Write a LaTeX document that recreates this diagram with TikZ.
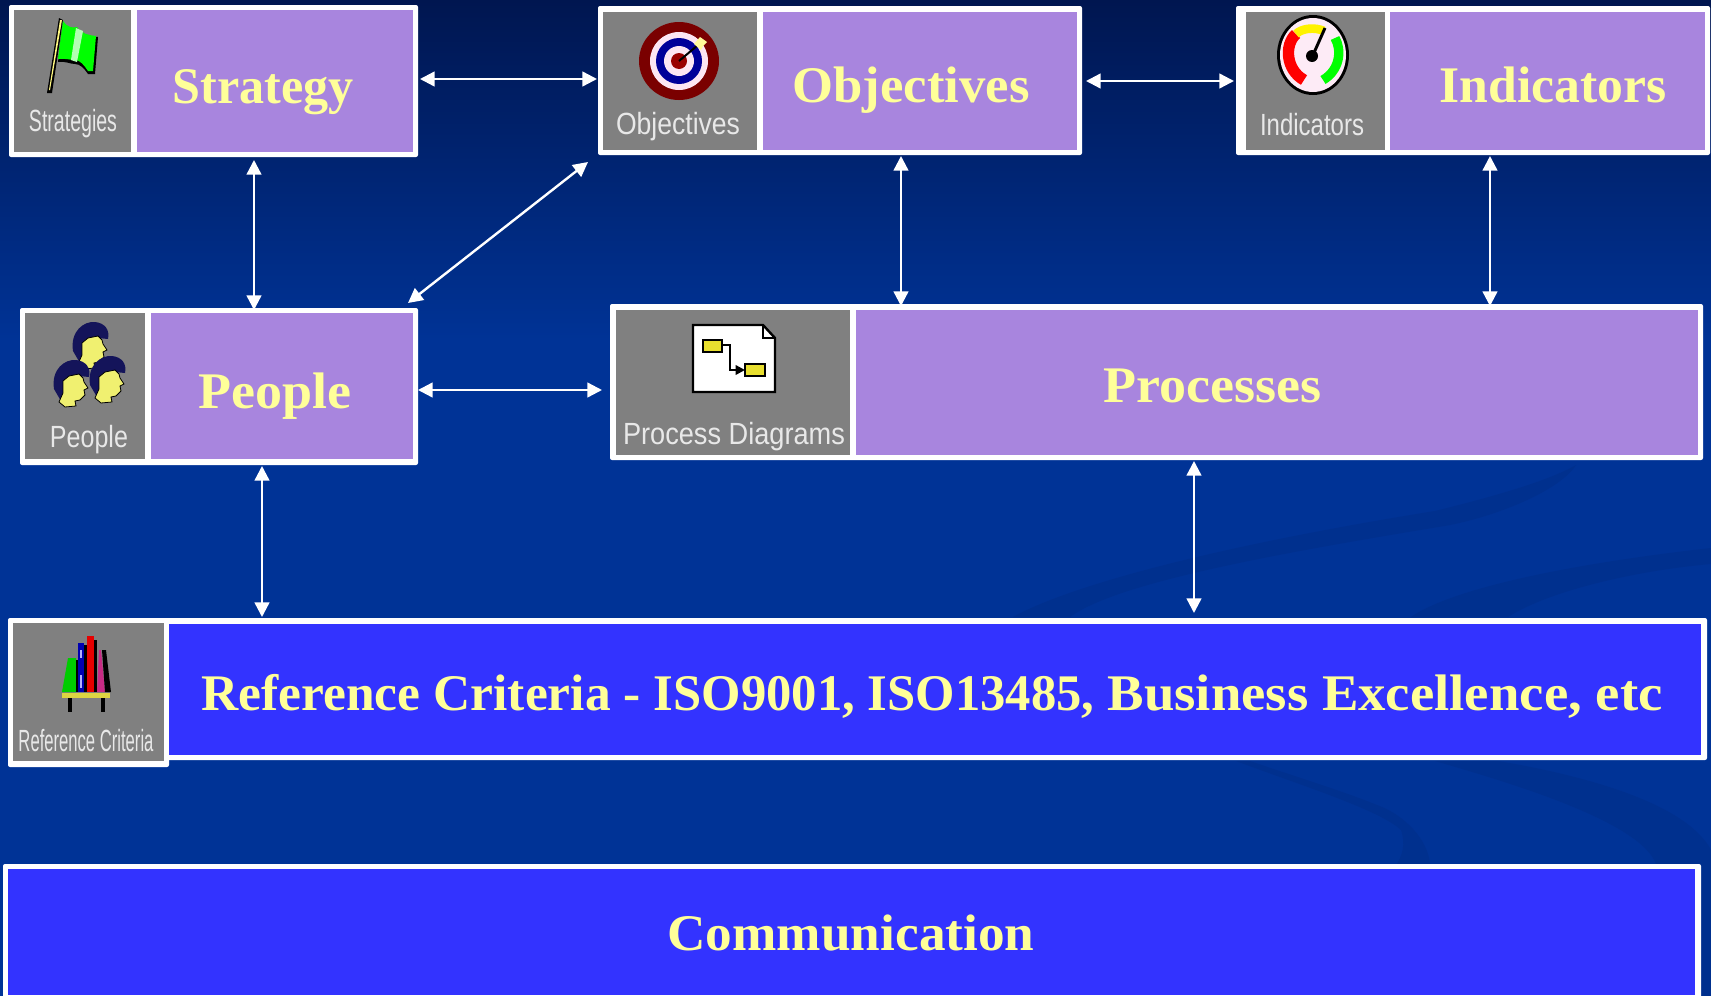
\documentclass[tikz,border=0pt]{standalone}
\usepackage{fontspec}
\setmainfont{Liberation Serif}
\newfontfamily\iconfont{Liberation Sans}
\usetikzlibrary{arrows.meta}
\definecolor{bgtop}{HTML}{001650}
\definecolor{bgmid}{HTML}{003396}
\definecolor{swoosh}{HTML}{00308E}
\definecolor{panelpurple}{HTML}{A885DE}
\definecolor{panelblue}{HTML}{3333FF}
\definecolor{panelgray}{HTML}{808080}
\definecolor{titleyellow}{HTML}{FFFF99}
\definecolor{iconlabel}{HTML}{E8E8E8}
\definecolor{navyhair}{HTML}{14145A}
\definecolor{faceyellow}{HTML}{F0F070}
\tikzset{
  panel/.style={inner sep=0pt,outer sep=0pt,minimum width=0pt,minimum height=0pt},
  rim/.style={panel,fill=white,rounded corners=1.5pt},
  graycell/.style={panel,fill=panelgray},
  purplecell/.style={panel,fill=panelpurple},
  bluecell/.style={panel,fill=panelblue},
  link/.style={draw=white,line width=1.8pt,{Triangle[length=11pt,width=11pt]}-{Triangle[length=11pt,width=11pt]}},
  titletext/.style={inner sep=0pt,outer sep=0pt,anchor=base,text=titleyellow},
  icontext/.style={inner sep=0pt,outer sep=0pt,anchor=center,text=iconlabel},
  edge/.style={draw=black,line width=1pt},
  pics/head/.style={code={
    \fill[navyhair] (-17,6) .. controls (-20,-14) and (-6,-24) .. (5,-23)
       .. controls (15,-22) and (20,-15) .. (18,-6) -- (8,-7) -- (-4,-4)
       .. controls (-8,4) and (-8,12) .. (-10,18) -- cycle;
    \draw[black,line width=0.6pt,fill=faceyellow] (-8,-2) -- (-2,-7) -- (8,-9) -- (12,-5) -- (13,-1)
       -- (17,5) -- (13,7) -- (14,12) -- (9,17) -- (4,18) -- (5,23) -- (-6,24) -- (-12,19) -- (-8,10) -- cycle;
  }},
}
% \panel{name}{style}{x0}{y0}{x1}{y1}
\newcommand\panel[6]{%
  \pgfmathsetlengthmacro\panelw{(#5-#3)*0.75pt}%
  \pgfmathsetlengthmacro\panelh{(#6-#4)*0.75pt}%
  \pgfmathsetmacro\panelx{(#3+#5)/2}%
  \pgfmathsetmacro\panely{(#4+#6)/2}%
  \node[#2,minimum width=\panelw,minimum height=\panelh] (#1) at (\panelx,\panely) {};%
}
% \ttl{name}{x}{baseline y}{width px}{text}
\newcommand\ttl[5]{\node[titletext] (#1) at (#2,#3) {\resizebox{\dimexpr0.75pt*#4\relax}{\height}{\fontsize{38.5}{44}\selectfont\bfseries #5}};}
% \iconlab{name}{x}{y}{width px}{text}
\newcommand\iconlab[5]{\node[icontext] (#1) at (#2,#3) {\resizebox{\dimexpr0.75pt*#4\relax}{\height}{\fontsize{23}{27}\selectfont\iconfont #5}};}
\begin{document}
\begin{tikzpicture}[x=0.75pt,y=-0.75pt]
\useasboundingbox (0,0) rectangle (1711,996);
% background
\shade[top color=bgtop,bottom color=bgmid] (0,0) rectangle (1711,340);
\fill[bgmid] (0,339) rectangle (1711,996);
\fill[swoosh] (1013,617) .. controls (1071,585) and (1217,546) .. (1435,511)
   .. controls (1500,495) and (1550,480) .. (1576,465)
   .. controls (1560,490) and (1500,515) .. (1450,525)
   .. controls (1300,550) and (1120,580) .. (1070,617) -- cycle;
\fill[swoosh] (1411,617) .. controls (1450,590) and (1560,565) .. (1711,548)
   -- (1711,564) .. controls (1640,570) and (1550,590) .. (1508,617) -- cycle;
\fill[swoosh] (1236,761) .. controls (1300,785) and (1380,810) .. (1401,830)
   .. controls (1406,845) and (1402,855) .. (1397,864) -- (1430,864)
   .. controls (1428,840) and (1405,815) .. (1377,805)
   .. controls (1340,790) and (1290,775) .. (1250,761) -- cycle;
\fill[swoosh] (1435,761) .. controls (1500,780) and (1640,820) .. (1656,864)
   -- (1711,864) -- (1711,850) .. controls (1690,810) and (1610,780) .. (1498,761) -- cycle;
\fill[swoosh] (1700,864) rectangle (1711,996);
% Strategy
\panel{strat}{rim}{9}{5}{418}{157}
\panel{stratIcon}{graycell}{14}{10}{131}{152}
\panel{stratBody}{purplecell}{137}{10}{413}{152}
% Objectives
\panel{obj}{rim}{598}{6}{1082}{155}
\panel{objIcon}{graycell}{603}{12}{757}{150}
\panel{objBody}{purplecell}{763}{12}{1077}{150}
% Indicators
\panel{ind}{rim}{1236}{6}{1710}{155}
\panel{indIcon}{graycell}{1246}{12}{1385}{150}
\panel{indBody}{purplecell}{1390}{12}{1705}{150}
% People
\panel{people}{rim}{20}{308}{418}{465}
\panel{peopleIcon}{graycell}{25}{313}{145}{459}
\panel{peopleBody}{purplecell}{151}{313}{413}{459}
% Processes
\panel{proc}{rim}{610}{304}{1703}{460}
\panel{procIcon}{graycell}{616}{310}{850}{455}
\panel{procBody}{purplecell}{856}{310}{1698}{455}
% Reference criteria
\panel{ref}{rim}{160}{618}{1707}{760}
\panel{refTab}{rim}{8}{618}{169}{767}
\panel{refIcon}{graycell}{13}{623}{164}{761}
\panel{refBody}{bluecell}{169}{624}{1701}{755}
% Communication
\panel{comm}{rim}{3}{864}{1701}{1000}
\panel{commBody}{bluecell}{8}{869}{1695}{995}
% titles
\ttl{stratT}{263}{103}{181}{Strategy}
\ttl{objT}{911}{102}{237}{Objectives}
\ttl{indT}{1553}{102}{227}{Indicators}
\ttl{peopleT}{275}{408}{153}{People}
\ttl{procT}{1212}{402}{218}{Processes}
\ttl{refT}{932}{710}{1461}{\scalebox{0.983}[1]{Reference Criteria -} \scalebox{0.967}[1]{ISO9001, ISO13485,} \scalebox{1.045}[1]{Business Excellence, etc}}
\ttl{commT}{851}{950}{367}{Communication}
% icon labels
\iconlab{stratL}{73}{124}{88}{Strategies}
\iconlab{objL}{678}{127}{124}{Objectives}
\iconlab{indL}{1312}{125}{104}{Indicators}
\iconlab{peopleL}{89}{440}{78}{People}
\iconlab{procL}{734}{437}{222}{Process Diagrams}
\iconlab{refL}{86}{741}{135}{Reference Criteria}
% flag icon
\fill[black] (59,18) -- (63,20) -- (52,93) -- (47,93) -- cycle;
\fill[yellow!50!white] (60,20) -- (62,20) -- (50,90) -- (49,90) -- cycle;
\fill[black] (63,22) .. controls (70,30) and (73,30) .. (78,29) .. controls (84,36) and (90,37) .. (98,37)
   -- (95,74) -- (88,74) .. controls (84,68) and (80,64) .. (75,64) .. controls (70,64) and (66,61) .. (58,62) -- cycle;
\fill[green] (63,21) .. controls (68,28) and (73,28) .. (77,27) .. controls (82,34) and (88,35) .. (96,36)
   -- (93,71) -- (88,71) .. controls (84,65) and (80,60) .. (75,60) .. controls (70,60) and (64,58) .. (58,59) -- cycle;
\fill[white!70!green] (76,28) -- (83,31) -- (77,62) -- (71,60) -- cycle;
% target icon
\fill[black!20!red!60!black] (679,61) circle[x radius=40,y radius=39];
\fill[white!90!magenta] (679,61) circle[radius=29];
\fill[blue!60!black] (679,61) circle[radius=23];
\fill[white!90!magenta] (679,61) circle[radius=15];
\fill[red!60!black] (679,61) circle[radius=8];
\draw[black,line width=1.5pt] (679,61) -- (698,45);
\fill[yellow!40!white] (694,44) -- (700,37) -- (707,42) -- (703,46) -- (701,50) -- cycle;
% gauge icon
\fill[black] (1313,55) circle[x radius=36,y radius=40];
\fill[white!92!magenta] (1313,55) circle[x radius=33,y radius=37];
\draw[red,line width=8.5pt] (1304,80) .. controls (1286,70) and (1284,45) .. (1296,34);
\draw[yellow,line width=6.5pt] (1296,34) .. controls (1302,28) and (1315,27) .. (1324,31);
\draw[green,line width=7pt] (1335,38) .. controls (1342,50) and (1340,70) .. (1323,80);
\draw[black,line width=2.2pt] (1313,55) -- (1325,28);
\fill[black] (1312,56) circle[radius=6];
% people icon
\pic at (90,345) {head};
\pic at (71,383) {head};
\pic at (107,379) {head};
% process document icon
\draw[edge,fill=white,line width=1.8pt] (693,325) -- (763,325) -- (775,338) -- (775,392) -- (693,392) -- cycle;
\draw[edge] (763,325) -- (763,338) -- (775,338);
\draw[edge,fill=yellow!80!gray] (703,340) rectangle (722,352);
\draw[edge,fill=yellow!80!gray] (745,364) rectangle (765,376);
\draw[black,line width=2pt,-{Triangle[length=7pt,width=7pt]}] (722,345) -- (730,345) -- (730,370) -- (745,370);
% books icon
\fill[green!80!black] (62,692) -- (68,658) -- (76,658) -- (76,692) -- cycle;
\fill[black] (76,660) rectangle (78,692);
\fill[blue!70!black] (78,643) rectangle (84,692);
\fill[white!70!blue] (80,650) rectangle (82,658);
\fill[white!70!blue] (80,675) rectangle (82,688);
\fill[black] (84,645) rectangle (87,692);
\fill[red!90!black] (87,636) rectangle (94,692);
\fill[black] (94,640) rectangle (97,692);
\fill[magenta!80!black] (97,692) -- (99,650) -- (101,650) -- (105,692) -- cycle;
\fill[black] (102,650) -- (106,650) -- (111,692) -- (105,692) -- cycle;
\fill[yellow!70!gray] (62,693) rectangle (110,698);
\fill[black] (68,698) rectangle (72,712);
\fill[black] (101,698) rectangle (105,712);
% connectors
\draw[link] ([shift={(2,-78)}]strat.south east) -- ([shift={(-1,73)}]obj.north west);
\draw[link] ([shift={(4,-74)}]obj.south east) -- ([shift={(-2,75)}]ind.north west);
\draw[link] ([shift={(245,3)}]strat.south west) -- ([shift={(234,2)}]people.north west);
\draw[link] ([shift={(303,1)}]obj.south west) -- ([shift={(291,2)}]proc.north west);
\draw[link] ([shift={(254,1)}]ind.south west) -- ([shift={(880,2)}]proc.north west);
\draw[link] ([shift={(-10,-5)}]people.north east) -- ([shift={(-10,7)}]obj.south west);
\draw[link] ([shift={(0,82)}]people.north east) -- ([shift={(-8,86)}]proc.north west);
\draw[link] ([shift={(242,1)}]people.south west) -- ([shift={(102,-1)}]ref.north west);
\draw[link] ([shift={(584,1)}]proc.south west) -- ([shift={(1034,-5)}]ref.north west);
\end{tikzpicture}
\end{document}
